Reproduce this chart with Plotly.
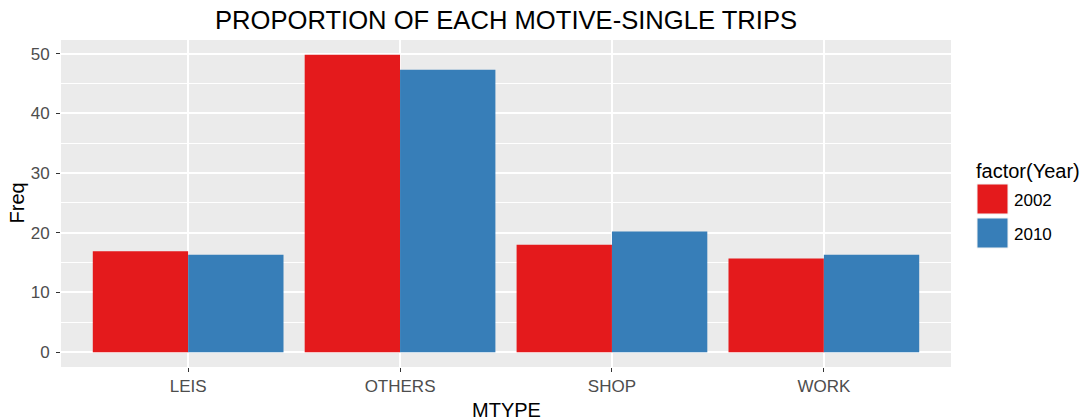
import plotly.graph_objects as go

categories = ["LEIS", "OTHERS", "SHOP", "WORK"]
years = ["2002", "2010"]
freq_2002 = [16.9, 49.8, 18.0, 15.7]
freq_2010 = [16.3, 47.3, 20.2, 16.3]
colors = ["#E41A1C", "#377EB8"]
y_ticks = [0, 10, 20, 30, 40, 50]

W, H = 1091, 420
PL, PR, PT, PB = 61, 951, 40, 367  # panel edges in px

def px_x(px):
    return (px - PL) / (PR - PL)

def px_y(py):
    return (PB - py) / (PB - PT)

fig = go.Figure()
for yr, vals, col in zip(years, [freq_2002, freq_2010], colors):
    fig.add_trace(go.Bar(x=categories, y=vals, name=yr, marker_color=col,
                         marker_line_width=0, showlegend=False))

ymax = max(freq_2002 + freq_2010)
pad = 0.05 * ymax

font = "Liberation Sans, Arial, sans-serif"
fig.update_layout(
    width=W, height=H,
    margin=dict(l=PL, r=W - PR, t=PT, b=H - PB, pad=0),
    paper_bgcolor="white", plot_bgcolor="#EBEBEB",
    barmode="group", bargap=0.1, bargroupgap=0,
    font=dict(family=font, color="#000000"),
    title=dict(text="PROPORTION OF EACH MOTIVE-SINGLE TRIPS", x=0.5, xref="paper",
               y=1 - 20 / H, yref="container", xanchor="center", yanchor="middle",
               font=dict(size=25.6, color="#000000", family=font)),
    xaxis=dict(range=[-0.6, 3.6], showgrid=True, gridcolor="white", gridwidth=2,
               ticks="outside", ticklen=4, tickwidth=1, tickcolor="#333333",
               tickfont=dict(size=17, color="#4D4D4D"), zeroline=False,
               showline=False, fixedrange=True),
    yaxis=dict(range=[-pad, ymax + pad], tickvals=y_ticks, showgrid=True,
               gridcolor="white", gridwidth=2,
               minor=dict(dtick=5, tick0=5, showgrid=True, gridcolor="white", gridwidth=1, ticks=""),
               ticks="outside", ticklen=4, tickwidth=1, tickcolor="#333333",
               tickfont=dict(size=17, color="#4D4D4D"), zeroline=False,
               showline=False, ticklabelstandoff=3),
)

annotations = [
    dict(text="Freq", x=px_x(16.5), y=px_y(203), xref="paper", yref="paper",
         textangle=-90, showarrow=False, font=dict(size=20, color="#000000"),
         xanchor="center", yanchor="middle"),
    dict(text="MTYPE", x=0.5, y=px_y(410), xref="paper", yref="paper",
         showarrow=False, font=dict(size=20, color="#000000"),
         xanchor="center", yanchor="middle"),
    dict(text="factor(Year)", x=px_x(974), y=px_y(171), xref="paper", yref="paper",
         showarrow=False, font=dict(size=20, color="#000000"),
         xanchor="left", yanchor="middle"),
]
shapes = []
key_tops = [184, 218]
for yr, col, top in zip(years, colors, key_tops):
    shapes.append(dict(type="rect", xref="paper", yref="paper",
                       x0=px_x(977), x1=px_x(1008), y0=px_y(top + 30), y1=px_y(top),
                       fillcolor=col, line=dict(width=1, color="#F2F2F2")))
    annotations.append(dict(text=yr, x=px_x(1012), y=px_y(top + 16), xref="paper", yref="paper",
                            showarrow=False, font=dict(size=17, color="#000000"),
                            xanchor="left", yanchor="middle"))
fig.update_layout(annotations=annotations, shapes=shapes)

fig.write_html("out.html", config={"displayModeBar": False},
               post_script="document.body.style.margin='0';document.body.style.overflow='hidden';")
